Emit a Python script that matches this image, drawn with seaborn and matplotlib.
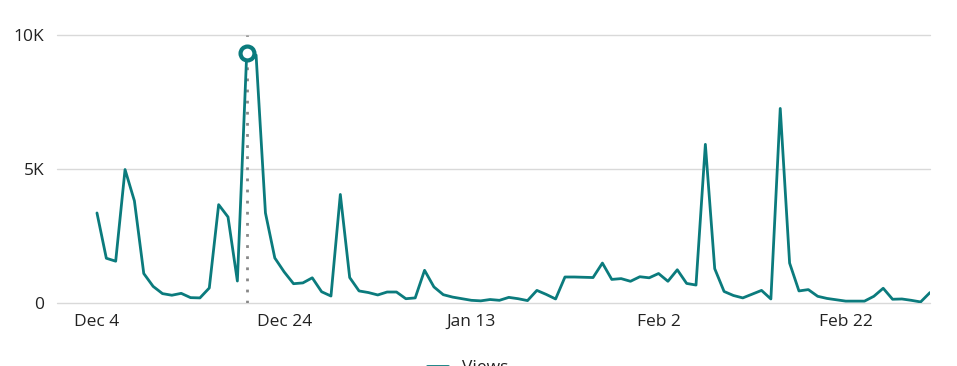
import matplotlib
matplotlib.use("Agg")
import matplotlib.pyplot as plt
from matplotlib.lines import Line2D
import seaborn as sns
import pandas as pd

# ---- data ----
start_date = "2024-12-04"
views = [
    3360, 1670, 1560, 4980, 3810, 1100, 620, 350, 290, 360,
    200, 190, 560, 3670, 3210, 820, 9320, 9250, 3360, 1680,
    1160, 720, 750, 940, 420, 260, 4050, 950, 450, 390,
    300, 410, 410, 160, 190, 1220, 600, 310, 220, 160,
    100, 80, 130, 100, 210, 160, 90, 470, 320, 150,
    970, 970, 960, 950, 1490, 880, 910, 810, 980, 940,
    1100, 810, 1240, 730, 670, 5920, 1280, 430, 280, 190,
    330, 470, 150, 7260, 1490, 450, 500, 250, 170, 120,
    70, 70, 70, 250, 550, 140, 150, 100, 40, 390,
]
dates = pd.date_range(start_date, periods=len(views), freq="D")
highlight_date = "2024-12-20"
tick_dates = ["2024-12-04", "2024-12-24", "2025-01-13", "2025-02-02", "2025-02-22"]
tick_labels = ["Dec 4", "Dec 24", "Jan 13", "Feb 2", "Feb 22"]
y_ticks = [0, 5000, 10000]
y_labels = ["0", "5K", "10K"]
series_name = "Views"

df = pd.DataFrame({"date": dates, "value": views, "series": series_name})

# ---- style ----
sns.set_theme(style="white")
plt.rcParams["font.family"] = ["Open Sans", "DejaVu Sans"]

teal = "#0b7b7d"
text_col = "#222222"
grid_col = "#d9d9d9"

fig = plt.figure(figsize=(9.57, 3.66), dpi=100)
ax = fig.add_axes([57 / 957, 63 / 366, (930 - 57) / 957, (303 - 35) / 366])

sns.lineplot(data=df, x="date", y="value", hue="series", palette=[teal],
             linewidth=2, ax=ax, legend=False)

hd = pd.Timestamp(highlight_date)
hv = df.loc[df["date"] == hd, "value"].iloc[0]
ax.axvline(hd, color="#888888", linestyle=(0, (1, 3)), linewidth=2, zorder=1)
ax.plot([hd], [hv], marker="o", markersize=10, markerfacecolor="white",
        markeredgecolor=teal, markeredgewidth=3, zorder=5, clip_on=False)

ax.set_ylim(0, 10000)
x0 = dates[0] - pd.Timedelta(days=4.27)
ax.set_xlim(x0, dates[-1])

ax.set_yticks(y_ticks)
ax.set_yticklabels(y_labels)
ax.set_xticks(pd.to_datetime(tick_dates))
ax.set_xticklabels(tick_labels)
ax.tick_params(axis="both", length=0, labelsize=12.5, colors=text_col)
ax.tick_params(axis="x", pad=8)
ax.tick_params(axis="y", pad=9)

ax.grid(axis="y", color=grid_col, linewidth=1)
ax.grid(axis="x", visible=False)
for line in ax.get_ygridlines():
    line.set_clip_on(False)
for s in ax.spines.values():
    s.set_visible(False)
ax.set_xlabel("")
ax.set_ylabel("")

handle = Line2D([], [], color=teal, linewidth=2)
fig.legend([handle], [series_name], loc="center", bbox_to_anchor=(0.489, -0.005),
           frameon=False, fontsize=12.5, labelcolor=text_col, handlelength=1.2)

fig.savefig("out.png", dpi=100)
